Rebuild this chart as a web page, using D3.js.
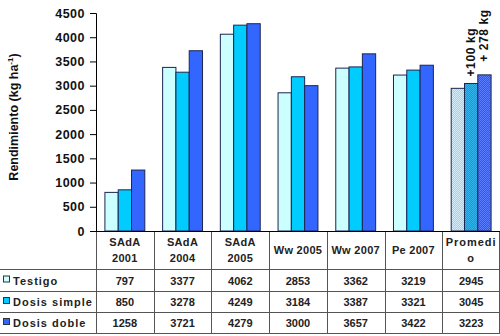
<!DOCTYPE html>
<html><head><meta charset="utf-8">
<script src="https://cdn.jsdelivr.net/npm/d3@7"></script>
<style>body{margin:0;background:#fff}svg{display:block;font-family:"Liberation Sans",Arial,sans-serif}</style>
</head><body><svg id="c" width="500" height="336"></svg>
<script>
const categories = [["SAdA","2001"],["SAdA","2004"],["SAdA","2005"],["Ww 2005"],["Ww 2007"],["Pe 2007"],["Promedi","o"]];
const seriesNames = ["Testigo","Dosis simple","Dosis doble"];
const testigo = [797,3377,4062,2853,3362,3219,2945];
const dosisSimple = [850,3278,4249,3184,3387,3321,3045];
const dosisDoble = [1258,3721,4279,3000,3657,3422,3223];
const yTicks = [0,500,1000,1500,2000,2500,3000,3500,4000,4500];
const diffLabels = ["+100 kg","+ 278 kg"];

(function(){
const series = [testigo, dosisSimple, dosisDoble];
const colors = ["#ccffff","#00ccff","#3366ff"];
const svg = d3.select("#c");
const W = 500, mLeft = 96, mRight = 500, mTop = 13, mBottom = 231;
const rowY = [231, 269, 291, 312, 333];

const defs = svg.append("defs");
const pats = [["#a9cdec","#d6ebf8"],["#1b95dc","#35b4ec"],["#3355ee","#5b7dff"]];
pats.forEach((p,i)=>{
  const pt = defs.append("pattern").attr("id","pat"+i).attr("width",2).attr("height",2).attr("patternUnits","userSpaceOnUse");
  pt.append("rect").attr("width",2).attr("height",2).attr("fill",p[0]);
  pt.append("rect").attr("width",1).attr("height",1).attr("fill",p[1]);
  pt.append("rect").attr("x",1).attr("y",1).attr("width",1).attr("height",1).attr("fill",p[1]);
});

const idx = d3.range(categories.length);
const x = d3.scaleBand().domain(idx).range([mLeft,mRight]).padding(0);
const xi = d3.scaleBand().domain([0,1,2]).range([0,x.bandwidth()]).paddingInner(0).paddingOuter(0.67);
const y = d3.scaleLinear().domain([0,4500]).range([mBottom,mTop]);
const lastC = categories.length-1;

idx.forEach(ci=>{
  series.forEach((s,si)=>{
    const isAvg = ci === lastC;
    svg.append("rect")
      .attr("x", x(ci)+xi(si))
      .attr("y", y(s[ci]))
      .attr("width", xi.bandwidth())
      .attr("height", y(0)-y(s[ci]))
      .attr("fill", isAvg ? "url(#pat"+si+")" : colors[si])
      .attr("stroke","#1d2550").attr("stroke-width",1);
  });
});

[[1,7],[2,13]].forEach(([si,off],k)=>{
  const cx = x(lastC)+xi(si)+xi.bandwidth()/2;
  const yy = y(series[si][lastC]) - off;
  svg.append("text").attr("transform",`translate(${cx+4},${yy}) rotate(-90)`)
    .attr("font-size",12).attr("font-weight","bold").attr("letter-spacing",0.6).attr("fill","#111")
    .text(diffLabels[k]);
});

const ax = svg.append("g").attr("transform",`translate(${mLeft},0)`)
  .call(d3.axisLeft(y).tickValues(yTicks).tickSize(6).tickPadding(5).tickFormat(d3.format("d")));
ax.select(".domain").attr("stroke","#000");
ax.selectAll(".tick line").attr("stroke","#000");
ax.selectAll("text").attr("font-size",12.5).attr("font-weight","bold").attr("letter-spacing",0.5)
  .attr("fill","#111").attr("font-family","'Liberation Sans',Arial,sans-serif");

const yt = svg.append("text").attr("transform",`translate(18,${(mTop+mBottom)/2-5}) rotate(-90)`)
  .attr("text-anchor","middle").attr("font-size",12.5).attr("font-weight","bold").attr("fill","#111");
yt.append("tspan").text("Rendimiento (kg ha");
yt.append("tspan").attr("font-size",8).attr("dy",-5).text("-1");
yt.append("tspan").attr("dy",5).text(")");

const grid = svg.append("g").attr("stroke","#555").attr("stroke-width",1);
rowY.slice(1).forEach(ry=>grid.append("line").attr("x1",0).attr("x2",W).attr("y1",ry+0.5).attr("y2",ry+0.5));
idx.concat([categories.length]).forEach(i=>{
  const xx = i<categories.length ? x(i) : mRight-1;
  grid.append("line").attr("x1",Math.round(xx)+0.5).attr("x2",Math.round(xx)+0.5).attr("y1",mBottom).attr("y2",rowY[4]);
});
svg.append("line").attr("x1",mLeft).attr("x2",mRight).attr("y1",mBottom+0.5).attr("y2",mBottom+0.5).attr("stroke","#000");

idx.forEach(ci=>{
  const lines = categories[ci];
  const cx = x(ci)+x.bandwidth()/2;
  const t = svg.append("text").attr("text-anchor","middle").attr("font-size",11).attr("font-weight","bold").attr("fill","#222");
  if(lines.length===2){
    const ls = ci===lastC ? 1 : 0.3;
    t.attr("letter-spacing",ls);
    t.append("tspan").attr("x",cx).attr("y",246).text(lines[0]);
    t.append("tspan").attr("x",cx).attr("y",262).text(lines[1]);
  } else {
    t.attr("letter-spacing",0.3).attr("x",cx).attr("y",254).text(lines[0]);
  }
});

series.forEach((s,si)=>{
  const cy = (rowY[si+1]+rowY[si+2])/2 + 4.5;
  svg.append("rect").attr("x",3.5).attr("y",cy-8.5).attr("width",6).attr("height",6)
    .attr("fill",colors[si]).attr("stroke","#333").attr("stroke-width",1);
  svg.append("text").attr("x",13).attr("y",cy).attr("font-size",11).attr("font-weight","bold")
    .attr("letter-spacing",1).attr("fill","#222").text(seriesNames[si]);
  idx.forEach(ci=>{
    svg.append("text").attr("x",x(ci)+x.bandwidth()/2).attr("y",cy).attr("text-anchor","middle")
      .attr("font-size",11).attr("font-weight","bold").attr("fill","#222").text(s[ci]);
  });
});
})();
</script></body></html>
